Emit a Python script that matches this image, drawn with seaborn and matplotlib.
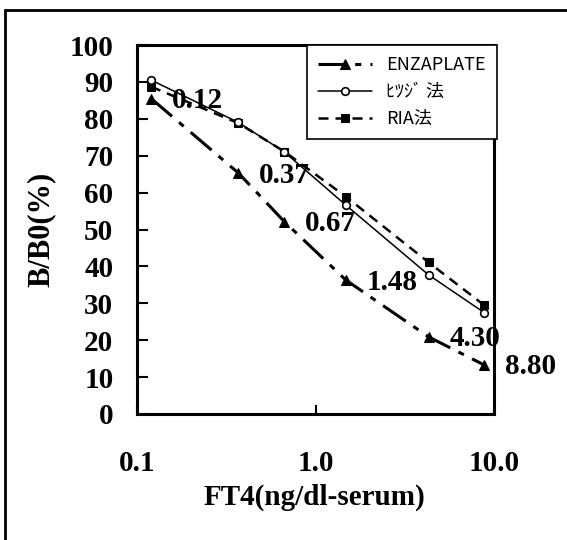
import matplotlib
matplotlib.use("Agg")
import matplotlib.pyplot as plt
import seaborn as sns
import pandas as pd
from matplotlib.lines import Line2D
from matplotlib.ticker import NullLocator

# ---- data ----
ft4 = [0.12, 0.37, 0.67, 1.48, 4.30, 8.80]
enzaplate = [85.5, 65.3, 52.1, 36.3, 20.9, 13.3]
hitsuji = [90.5, 79.0, 71.0, 56.6, 37.7, 27.5]
ria = [88.7, 78.8, 71.1, 58.9, 41.1, 29.5]
point_labels = ["0.12", "0.37", "0.67", "1.48", "4.30", "8.80"]
series_names = ["ENZAPLATE", "ﾋﾂｼﾞ 法", "RIA法"]
x_ticks = [0.1, 1.0, 10.0]
x_tick_labels = ["0.1", "1.0", "10.0"]
y_ticks = list(range(0, 101, 10))

sns.set_theme(style="white")
plt.rcParams["font.family"] = ["Liberation Serif", "DejaVu Sans"]
plt.rcParams["text.color"] = "black"
plt.rcParams["axes.labelcolor"] = "black"
plt.rcParams["xtick.color"] = "black"
plt.rcParams["ytick.color"] = "black"

W, H = 567, 540
fig = plt.figure(figsize=(W / 100, H / 100), dpi=100)
ax = fig.add_axes([137 / W, 1 - 414 / H, (494 - 137) / W, (414 - 45) / H])

df = pd.DataFrame({"x": ft4, "enz": enzaplate, "hit": hitsuji, "ria": ria})

sns.lineplot(data=df, x="x", y="enz", ax=ax, color="black", linewidth=2.2,
             linestyle=(0, (9, 3, 2, 3)), marker="^", markersize=6.5,
             markerfacecolor="black", markeredgecolor="black",
             label=series_names[0], zorder=3)
sns.lineplot(data=df, x="x", y="hit", ax=ax, color="black", linewidth=1.1,
             linestyle="-", marker="o", markersize=5.5,
             markerfacecolor="white", markeredgecolor="black", markeredgewidth=1.2,
             label=series_names[1], zorder=4)
sns.lineplot(data=df, x="x", y="ria", ax=ax, color="black", linewidth=1.8,
             linestyle=(0, (4, 2.8)), marker="s", markersize=6,
             markerfacecolor="black", markeredgecolor="black",
             label=series_names[2], zorder=3)

for xv, yv, t in zip(ft4, enzaplate, point_labels):
    ax.annotate(t, xy=(xv, yv), xytext=(46, -2), textcoords="offset pixels",
                ha="center", va="center", fontsize=21, fontweight="bold",
                family="Liberation Serif", color="black",
                annotation_clip=False, zorder=5)

ax.set_xscale("log")
ax.set_xlim(0.1, 10)
ax.set_ylim(0, 100)
ax.set_xticks(x_ticks)
ax.set_xticklabels(x_tick_labels)
ax.xaxis.set_minor_locator(NullLocator())
ax.set_yticks(y_ticks)
ax.set_yticklabels([str(v) for v in y_ticks])

for lab in ax.get_xticklabels() + ax.get_yticklabels():
    lab.set_fontweight("bold")
    lab.set_fontsize(21)
    lab.set_family("Liberation Serif")
    lab.set_color("black")

ax.tick_params(axis="y", direction="in", length=8, width=1.5, pad=17,
               left=True, right=False, colors="black")
ax.tick_params(axis="x", direction="in", length=6.5, width=1.5, pad=26,
               bottom=True, top=False, colors="black")

for sp in ax.spines.values():
    sp.set_visible(True)
    sp.set_linewidth(2.2)
    sp.set_color("black")

ax.set_xlabel("FT4(ng/dl-serum)", fontsize=21, fontweight="bold",
              family="Liberation Serif", color="black")
ax.set_ylabel("B/B0(%)", fontsize=22, fontweight="bold",
              family="Liberation Serif", color="black")
ax.xaxis.set_label_coords((314 - 137) / 357, (414 - 497) / 369)
ax.xaxis.label.set_va("center")
ax.yaxis.set_label_coords((41 - 137) / 357, (414 - 229) / 369)
ax.yaxis.label.set_va("center")

leg = ax.legend(loc="upper left",
                bbox_to_anchor=((307 - 137) / 357, 0, 1 - (307 - 137) / 357 + 3 / 357, 1.0),
                mode="expand", borderaxespad=0, frameon=True, fancybox=False,
                handlelength=3.0, handletextpad=0.8, borderpad=0.6,
                labelspacing=0.5, numpoints=1,
                prop={"family": ["Noto Sans CJK JP", "DejaVu Sans"], "size": 13})
leg.get_frame().set_edgecolor("black")
leg.get_frame().set_linewidth(1.2)
leg.get_frame().set_facecolor("white")
leg.get_frame().set_alpha(1)
for t in leg.get_texts():
    t.set_color("black")
leg.set_zorder(10)

# outer scan frame
fig.add_artist(Line2D([5 / W, 1.0], [1 - 10 / H, 1 - 10 / H], transform=fig.transFigure,
                      color="black", linewidth=2.0))
fig.add_artist(Line2D([5 / W, 5 / W], [0, 1 - 10 / H], transform=fig.transFigure,
                      color="black", linewidth=2.0))

fig.savefig("out.png", dpi=100, facecolor="white")
